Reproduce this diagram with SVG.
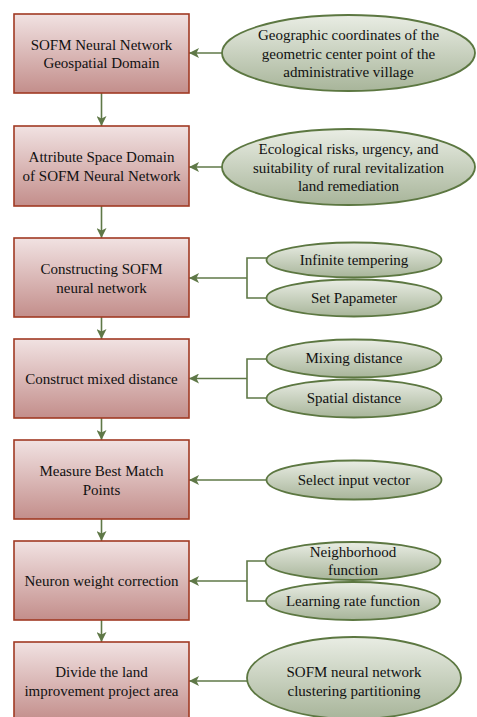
<svg xmlns="http://www.w3.org/2000/svg" width="477" height="717" viewBox="0 0 477 717">
<defs>
<linearGradient id="gBox" x1="0" y1="0" x2="0" y2="1">
<stop offset="0" stop-color="#f1e2e2"/>
<stop offset="1" stop-color="#c38e8b"/>
</linearGradient>
<linearGradient id="gEll" x1="0" y1="0" x2="0" y2="1">
<stop offset="0" stop-color="#e9ede4"/>
<stop offset="1" stop-color="#a8b59a"/>
</linearGradient>
<marker id="ah" viewBox="0 0 10 10" refX="10" refY="5" markerWidth="10" markerHeight="10" markerUnits="userSpaceOnUse" orient="auto">
<path d="M0,0 L10,5 L0,10 L2.5,5 Z" fill="#5f7847"/>
</marker>
</defs>
<style>
.box{fill:url(#gBox);stroke:#a13a24;stroke-width:1.6}
.ell{fill:url(#gEll);stroke:#5c7741;stroke-width:1.8}
.t text{font-size:15px;fill:#111;text-anchor:middle}
.c{fill:none;stroke:#5f7847;stroke-width:1.6}
.a{marker-end:url(#ah)}
</style>
<rect width="477" height="717" fill="#ffffff"/>
<g id="connectors">
<path class="c a" d="M101.5,93 V126"/>
<path class="c a" d="M101.5,206 V238"/>
<path class="c a" d="M101.5,317 V339"/>
<path class="c a" d="M101.5,418 V440"/>
<path class="c a" d="M101.5,519 V541"/>
<path class="c a" d="M101.5,620 V642"/>
<path class="c a" d="M222,53 H189"/>
<path class="c a" d="M222,167 H189"/>
<path class="c" d="M267,258 H247 V298 H267"/>
<path class="c a" d="M247,278 H189"/>
<path class="c" d="M267,359 H247 V398 H267"/>
<path class="c a" d="M247,378.5 H189"/>
<path class="c a" d="M267,480 H189"/>
<path class="c" d="M267,561 H247 V601 H267"/>
<path class="c a" d="M247,581 H189"/>
<path class="c a" d="M247,681 H189"/>
</g>
<g class="t" font-family="'Liberation Serif', 'Times New Roman', 'DejaVu Serif', serif">
<g id="box1"><rect class="box" x="14" y="14" width="175" height="79"/><text x="101.5" y="49.5">SOFM Neural Network</text><text x="101.5" y="67.5">Geospatial Domain</text></g>
<g id="box2"><rect class="box" x="14" y="126" width="175" height="80"/><text x="101.5" y="162">Attribute Space Domain</text><text x="101.5" y="180.5">of SOFM Neural Network</text></g>
<g id="box3"><rect class="box" x="14" y="238" width="175" height="79"/><text x="101.5" y="274">Constructing SOFM</text><text x="101.5" y="293">neural network</text></g>
<g id="box4"><rect class="box" x="14" y="339" width="175" height="79"/><text x="101.5" y="383.5">Construct mixed distance</text></g>
<g id="box5"><rect class="box" x="14" y="440" width="175" height="79"/><text x="101.5" y="476">Measure Best Match</text><text x="101.5" y="495">Points</text></g>
<g id="box6"><rect class="box" x="14" y="541" width="175" height="79"/><text x="101.5" y="586">Neuron weight correction</text></g>
<g id="box7"><rect class="box" x="14" y="642" width="175" height="79"/><text x="101.5" y="677">Divide the land</text><text x="101.5" y="696">improvement project area</text></g>
<g id="ell1"><ellipse class="ell" cx="348.5" cy="53" rx="126.5" ry="38"/><text x="348.5" y="40">Geographic coordinates of the</text><text x="348.5" y="58.5">geometric center point of the</text><text x="348.5" y="77">administrative village</text></g>
<g id="ell2"><ellipse class="ell" cx="348.5" cy="167" rx="126.5" ry="38"/><text x="348.5" y="154">Ecological risks, urgency, and</text><text x="348.5" y="172.5">suitability of rural revitalization</text><text x="348.5" y="191">land remediation</text></g>
<g id="ell3a"><ellipse class="ell" cx="354" cy="260" rx="87.5" ry="17.5"/><text x="354" y="264.5">Infinite tempering</text></g>
<g id="ell3b"><ellipse class="ell" cx="354" cy="298" rx="87.5" ry="18.5"/><text x="354" y="303">Set Papameter</text></g>
<g id="ell4a"><ellipse class="ell" cx="354" cy="358.5" rx="87.5" ry="19"/><text x="354" y="363">Mixing distance</text></g>
<g id="ell4b"><ellipse class="ell" cx="354" cy="398.5" rx="87.5" ry="19"/><text x="354" y="403">Spatial distance</text></g>
<g id="ell5"><ellipse class="ell" cx="354" cy="480" rx="87.5" ry="19.5"/><text x="354" y="485">Select input vector</text></g>
<g id="ell6a"><ellipse class="ell" cx="353" cy="561" rx="87.5" ry="19"/><text x="353" y="556.5">Neighborhood</text><text x="353" y="575">function</text></g>
<g id="ell6b"><ellipse class="ell" cx="353" cy="601" rx="87" ry="19"/><text x="353" y="606">Learning rate function</text></g>
<g id="ell7"><ellipse class="ell" cx="354" cy="678" rx="107" ry="41"/><text x="354" y="677">SOFM neural network</text><text x="354" y="696">clustering partitioning</text></g>
</g>
</svg>
